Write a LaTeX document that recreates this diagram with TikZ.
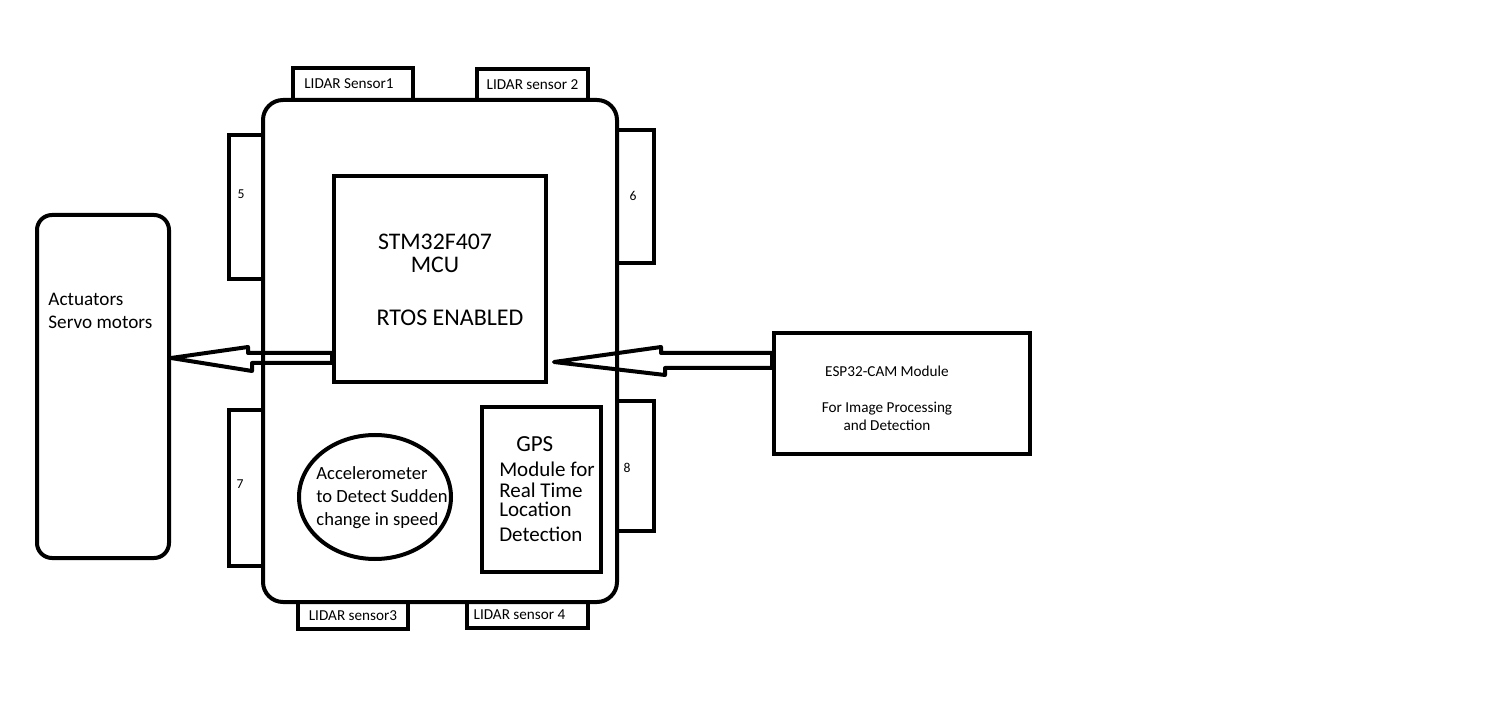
\documentclass[tikz,border=0pt]{standalone}
\usepackage{fontspec}
\setmainfont{Carlito}
\usetikzlibrary{shapes.geometric, calc}

\begin{document}
\begin{tikzpicture}[
    x=0.5pt, y=-0.5pt,
    box/.style={rectangle, draw, line width=2pt, inner sep=0pt},
    lidar/.style={box, font=\fontsize{7.6}{9}\selectfont},
    pad/.style={box, minimum width=17pt},
    num/.style={inner sep=0pt, font=\fontsize{6.8}{8}\selectfont},
    txt/.style={inner sep=0pt, align=left},
    hollow/.style={draw, line width=2pt, line join=round}
]

\useasboundingbox (0,0) rectangle (1505,705);

% Main board
\node[box, rounded corners=10pt, minimum width=177pt, minimum height=251pt] (board) at (440,351) {};

% LIDAR sensors
\node[lidar, minimum width=60pt, minimum height=16pt] (lidar1) at (353,84) {\hspace*{-4pt}LIDAR Sensor1};
\node[lidar, minimum width=55.5pt, minimum height=15.5pt] (lidar2) at (532.5,84.5) {LIDAR sensor 2};
\node[lidar, minimum width=55pt, minimum height=13.5pt] (lidar3) at (353,615.5) {LIDAR sensor3};
\node[lidar, minimum width=60.5pt, minimum height=13pt] (lidar4) at (527.5,615) {\hspace*{-8pt}LIDAR sensor 4};

% Side pads
\node[pad, minimum height=72pt] (p5) at (246,207) {};
\node[num] (n5) at (241,194) {5};
\node[pad, minimum width=18.5pt, minimum height=66.5pt] (p6) at (635.5,196.5) {};
\node[num] (n6) at (633,196) {6};
\node[pad, minimum height=78pt] (p7) at (246,488) {};
\node[num] (n7) at (240,484) {7};
\node[pad, minimum width=18.5pt, minimum height=65pt] (p8) at (635.5,466) {};
\node[num] (n8) at (627,468) {8};

% MCU
\node[box, minimum width=106pt, minimum height=103pt] (mcu) at (440,279) {};
\node[txt, align=center, font=\fontsize{11.9}{11.5}\selectfont] (mcuname) at (435,253) {STM32F407\\MCU};
\node[txt, font=\fontsize{12}{13}\selectfont] (rtos) at (450,318) {RTOS ENABLED};

% Accelerometer and GPS
\node[ellipse, draw, line width=2pt, inner sep=0pt, minimum width=76pt, minimum height=62pt] (accel) at (375,497) {};
\node[txt, font=\fontsize{9.3}{11.5}\selectfont] (acceltxt) at (382,498) {Accelerometer\\to Detect Sudden\\change in speed};
\node[box, minimum width=59.5pt, minimum height=82.5pt] (gps) at (541.5,489.5) {};
\node[txt, font=\fontsize{10.5}{10.5}\selectfont] (gpstxt) at (547,489) {\hspace*{8.5pt}{\fontsize{11.5}{12}\selectfont GPS}\\[2pt]Module for\\Real Time\\[-1pt]Location\\[2pt]Detection};

% Actuators
\node[box, rounded corners=7.5pt, minimum width=66pt, minimum height=171.5pt] (act) at (103,386.5) {};
\node[txt, anchor=west, font=\fontsize{9.6}{11.5}\selectfont] (acttxt) at (48,311) {Actuators\\Servo motors};

% ESP32-CAM
\node[box, minimum width=128pt, minimum height=60.5pt] (esp) at (902,393.5) {};
\node[txt, align=center, font=\fontsize{7.6}{9}\selectfont] (esptxt) at (887,398) {ESP32-CAM Module\\[9pt]For Image Processing\\and Detection};

% Arrows
\draw[hollow] ($(mcu.west)+(0,74)$) -- ++(-84,0) -- ++(0,-6) -- ($(act.east)+(0,-28.5)$) -- ++(81,13) -- ++(0,-8) -- ($(mcu.west)+(0,84)$) -- cycle;
\draw[hollow] ($(esp.west)+(0,-40.5)$) -- ++(-111,0) -- ++(0,-6) -- ($(mcu.east)+(6,83)$) -- ++(111,13) -- ++(0,-7) -- ($(esp.west)+(0,-25.5)$) -- cycle;

\end{tikzpicture}
\end{document}
